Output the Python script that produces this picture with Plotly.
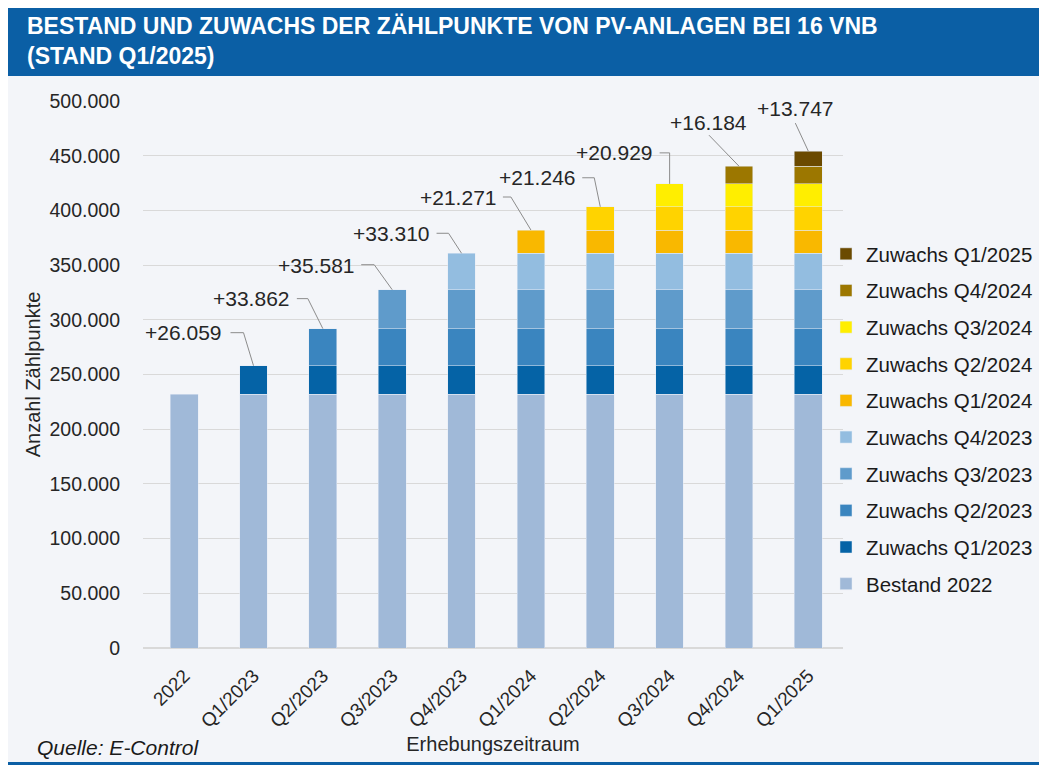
import plotly.graph_objects as go

categories = ["2022", "Q1/2023", "Q2/2023", "Q3/2023", "Q4/2023",
              "Q1/2024", "Q2/2024", "Q3/2024", "Q4/2024", "Q1/2025"]
bestand_2022 = 232000
zuwachs_names = ["Zuwachs Q1/2023", "Zuwachs Q2/2023", "Zuwachs Q3/2023", "Zuwachs Q4/2023",
                 "Zuwachs Q1/2024", "Zuwachs Q2/2024", "Zuwachs Q3/2024", "Zuwachs Q4/2024",
                 "Zuwachs Q1/2025"]
zuwachs_values = [26059, 33862, 35581, 33310, 21271, 21246, 20929, 16184, 13747]

colors = ["#A0B9D8",
          "#0563A6", "#3A85BF", "#5F9BCB", "#93BDE0",
          "#F9B800", "#FFD300", "#FFEE00", "#9C7700", "#6B4A00"]

# label offsets (px) relative to the bar top and leader line points
label_offsets = [(-70, 33), (-71, 30), (-76, 24), (-70, 20), (-72, 33),
                 (-63, 29), (-55, 31), (-30, 44), (-13, 43)]
leader_paths = [
    [(-23, 33), (-10, 33), (0, 0)],
    [(-26, 30), (-15, 30), (0, 0)],
    [(-31, 25), (-18, 25), (0, 0)],
    [(-25, 20), (-13, 20), (0, 0)],
    [(-28, 33), (-20, 33), (0, 0)],
    [(-18, 29), (-6, 29), (0, 0)],
    [(-10, 31), (0, 31), (0, 0)],
    [(-30, 31), (0, 0)],
    [(-13, 28), (0, 0)],
]

# the page puts the figure 8px in from the top left corner
OFF = 8
W, H = 1047 - OFF, 765 - OFF
L, T = 143 - OFF, 101 - OFF
R, B = W - (843 - OFF), H - (648 - OFF)
PW, PH = W - L - R, H - T - B


def px(x):
    return (x - OFF - L) / PW


def py(y):
    return (H - B - (y - OFF)) / PH


BLUE = "#0B5FA5"
FONT = "Arial, Liberation Sans, sans-serif"
TXT = "#262626"

fig = go.Figure()
fig.add_trace(go.Bar(
    x=categories, y=[bestand_2022] * len(categories), name="Bestand 2022",
    marker_color=colors[0], legendgroup="g0", legendrank=100,
))
for i, (name, val) in enumerate(zip(zuwachs_names, zuwachs_values)):
    y = [None] * (i + 1) + [val] * (len(categories) - i - 1)
    fig.add_trace(go.Bar(
        x=categories, y=y, name=name, marker_color=colors[i + 1],
        legendgroup=f"g{i + 1}", legendrank=99 - i,
    ))

totals = []
run = bestand_2022
for v in zuwachs_values:
    run += v
    totals.append(run)

for i, (v, tot) in enumerate(zip(zuwachs_values, totals)):
    cat = categories[i + 1]
    dx, dy = label_offsets[i]
    fig.add_annotation(
        x=cat, y=tot, text="+" + f"{v:,}".replace(",", "."),
        showarrow=False, xshift=dx, yshift=dy,
        font=dict(size=21, color=TXT, family=FONT),
    )
    pts = leader_paths[i]
    path = "M " + " L ".join(f"{p[0]},{p[1]}" for p in pts)
    fig.add_shape(
        type="path", path=path, xref="x", yref="y",
        xsizemode="pixel", ysizemode="pixel", xanchor=cat, yanchor=tot,
        line=dict(color="#8C8C8C", width=1),
    )

# header band and bottom rule
fig.add_shape(type="rect", xref="paper", yref="paper", x0=px(OFF), x1=px(1047), y0=py(76), y1=py(OFF),
              fillcolor=BLUE, line_width=0, layer="below")
fig.add_shape(type="rect", xref="paper", yref="paper", x0=px(OFF), x1=px(1047), y0=py(765), y1=py(762),
              fillcolor=BLUE, line_width=0, layer="below")

fig.add_annotation(
    xref="paper", yref="paper", x=px(35), y=py(747), xanchor="left", yanchor="middle",
    text="Quelle: E-Control", showarrow=False,
    font=dict(size=21, color="#1a1a1a", family=FONT, style="italic"),
)

fig.update_layout(
    width=W, height=H,
    margin=dict(l=L, r=R, t=T, b=B, autoexpand=False),
    barmode="stack", bargap=0.6,
    separators=",.",
    paper_bgcolor="#F3F5F9", plot_bgcolor="#F3F5F9",
    font=dict(family=FONT, color=TXT),
    title=dict(
        text="BESTAND UND ZUWACHS DER ZÄHLPUNKTE VON PV-ANLAGEN BEI 16 VNB<br>(STAND Q1/2025)",
        x=(27 - OFF) / W, xanchor="left", xref="container",
        y=1 - (34 - OFF) / H, yanchor="middle", yref="container",
        font=dict(size=23, color="white", family=FONT, weight="bold"),
    ),
    xaxis=dict(
        tickangle=-45, tickfont=dict(size=19, color=TXT), ticklabelstandoff=12,
        title=dict(text="Erhebungszeitraum", font=dict(size=20, color=TXT), standoff=6),
        showgrid=False, showline=False, zeroline=False,
    ),
    yaxis=dict(
        range=[0, 500000], dtick=50000, tickformat=",d",
        tickfont=dict(size=19.5, color=TXT), ticklabelstandoff=22,
        title=dict(text="Anzahl Zählpunkte", font=dict(size=20, color=TXT), standoff=3),
        gridcolor="#D9D9D9", gridwidth=1, zeroline=True, zerolinecolor="#D9D9D9",
        showline=False,
    ),
    legend=dict(
        x=px(826), xanchor="left", y=py(234), yanchor="top",
        traceorder="grouped", tracegroupgap=7,
        font=dict(size=20.5, color="#1a1a1a"), bgcolor="rgba(0,0,0,0)",
    ),
    showlegend=True,
)

fig.write_html("out.html")
